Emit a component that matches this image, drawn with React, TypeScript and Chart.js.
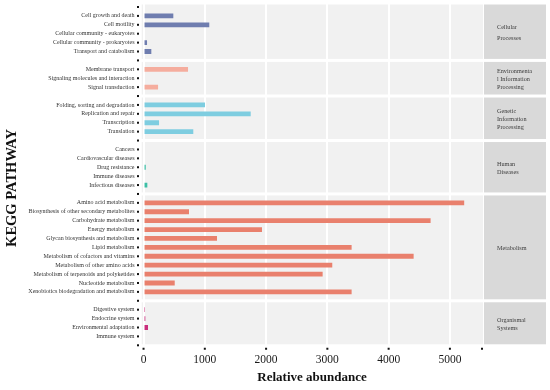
import { useEffect, useRef } from "react";
import { Chart, registerables } from "chart.js";

Chart.register(...registerables);

const SERIF = "'Liberation Serif', 'Times New Roman', serif";

const cellularLabels = ["Cell growth and death", "Cell motility", "Cellular community - eukaryotes", "Cellular community - prokaryotes", "Transport and catabolism"];
const cellularValues = [486, 1073, 0, 57, 127];

const environmentalLabels = ["Membrane transport", "Signaling molecules and interaction", "Signal transduction"];
const environmentalValues = [726, 0, 237];

const geneticLabels = ["Folding, sorting and degradation", "Replication and repair", "Transcription", "Translation"];
const geneticValues = [1003, 1749, 253, 812];

const humanLabels = ["Cancers", "Cardiovascular diseases", "Drug resistance", "Immune diseases", "Infectious diseases"];
const humanValues = [0, 0, 36, 0, 62];

const metabolismLabels = ["Amino acid metabolism", "Biosynthesis of other secondary metabolites", "Carbohydrate metabolism", "Energy metabolism", "Glycan biosynthesis and metabolism", "Lipid metabolism", "Metabolism of cofactors and vitamins", "Metabolism of other amino acids", "Metabolism of terpenoids and polyketides", "Nucleotide metabolism", "Xenobiotics biodegradation and metabolism"];
const metabolismValues = [5233, 742, 4685, 1933, 1199, 3396, 4408, 3080, 2923, 509, 3396];

const organismalLabels = ["Digestive system", "Endocrine system", "Environmental adaptation", "Immune system"];
const organismalValues = [24, 29, 73, 0];

const stripLabels = [
  ["Cellular", "Processes"],
  ["Environmenta", "l Information", "Processing"],
  ["Genetic", "Information", "Processing"],
  ["Human", "Diseases"],
  ["Metabolism"],
  ["Organismal", "Systems"],
];
const groupColors = ["#6f7daf", "#f5ad9e", "#7ecde0", "#3dbfa6", "#e9806d", "#c92e7c"];
const xTickValues = [0, 1000, 2000, 3000, 4000, 5000];

const groups = [
  { labels: cellularLabels, values: cellularValues },
  { labels: environmentalLabels, values: environmentalValues },
  { labels: geneticLabels, values: geneticValues },
  { labels: humanLabels, values: humanValues },
  { labels: metabolismLabels, values: metabolismValues },
  { labels: organismalLabels, values: organismalValues },
];

// rows: blank separator rows between facets
const rowLabels: string[] = [""];
const gapRows: number[] = [0];
const spans: { start: number; end: number }[] = [];
groups.forEach((g) => {
  const start = rowLabels.length;
  g.labels.forEach((l) => rowLabels.push(l));
  spans.push({ start, end: rowLabels.length - 1 });
  gapRows.push(rowLabels.length);
  rowLabels.push("");
});

const datasets = groups.map((g, k) => {
  const data: (number | null)[] = rowLabels.map(() => null);
  g.values.forEach((v, i) => {
    data[spans[k].start + i] = v;
  });
  return {
    label: stripLabels[k].join(" "),
    data,
    backgroundColor: groupColors[k],
    borderWidth: 0,
    barPercentage: 0.54,
    categoryPercentage: 1,
    grouped: false,
  };
});

const facetPlugin = {
  id: "facets",
  beforeDraw(chart: any) {
    const { ctx, chartArea, scales } = chart;
    const y = scales.y;
    ctx.save();
    ctx.fillStyle = "#f1f1f1";
    spans.forEach((_s, k) => {
      const gTop = y.getPixelForValue(gapRows[k]);
      const gBot = y.getPixelForValue(gapRows[k + 1]);
      const top = k === 0 ? gTop - 2.5 : gTop + 1.5;
      const bottom = k === spans.length - 1 ? gBot - 1 : gBot - 1.5;
      ctx.fillRect(chartArea.left, top, chartArea.right - chartArea.left, bottom - top);
    });
    ctx.restore();
  },
  afterDraw(chart: any) {
    const { ctx, chartArea, scales } = chart;
    const y = scales.y;
    const x = scales.x;
    ctx.save();
    // strips
    spans.forEach((_s, k) => {
      const gTop = y.getPixelForValue(gapRows[k]);
      const gBot = y.getPixelForValue(gapRows[k + 1]);
      const top = k === 0 ? gTop - 2.5 : gTop + 1.5;
      const bottom = k === spans.length - 1 ? gBot - 1 : gBot - 1.5;
      ctx.fillStyle = "#d9d9d9";
      ctx.fillRect(chartArea.right + 1, top, 62, bottom - top);
      const lines = stripLabels[k];
      const lh = k === 0 ? 11 : 8.3;
      const mid = (top + bottom) / 2 + 1;
      ctx.fillStyle = "#3d3d3d";
      ctx.font = `6.2px ${SERIF}`;
      ctx.textAlign = "left";
      ctx.textBaseline = "middle";
      lines.forEach((line, i) => {
        ctx.fillText(line, chartArea.right + 14, mid + (i - (lines.length - 1) / 2) * lh);
      });
    });
    // tick dots
    ctx.fillStyle = "#111";
    rowLabels.forEach((_l, i) => {
      const py = y.getPixelForValue(i);
      ctx.fillRect(137, py - 1, 2, 2);
    });
    xTickValues.forEach((v) => {
      const px = x.getPixelForValue(v);
      ctx.fillRect(px - 1, chartArea.bottom - 2, 2, 2);
    });
    ctx.fillRect(chartArea.right - 2, chartArea.bottom - 2, 2, 2);
    // axis titles
    ctx.fillStyle = "#111";
    ctx.font = `bold 13px ${SERIF}`;
    ctx.textAlign = "center";
    ctx.textBaseline = "middle";
    ctx.fillText("Relative abundance", 312, 378);
    ctx.translate(12.5, 188);
    ctx.rotate(-Math.PI / 2);
    ctx.font = `bold 14.5px ${SERIF}`;
    ctx.fillText("KEGG PATHWAY", 0, 0);
    ctx.restore();
  },
};

export default function App() {
  const ref = useRef<HTMLCanvasElement | null>(null);
  useEffect(() => {
    if (!ref.current) return;
    const chart = new Chart(ref.current, {
      type: "bar",
      data: { labels: rowLabels, datasets: datasets as any },
      options: {
        indexAxis: "y",
        animation: false,
        responsive: false,
        devicePixelRatio: 1,
        layout: { padding: { top: 2.55, right: 67, left: 0, bottom: 0 } },
        plugins: { legend: { display: false }, tooltip: { enabled: false }, title: { display: false } },
        scales: {
          x: {
            type: "linear",
            min: -30,
            max: 5540,
            afterBuildTicks: (scale: any) => {
              scale.ticks = xTickValues.map((v) => ({ value: v }));
            },
            afterFit: (scale: any) => {
              scale.height = 40.25;
              scale.paddingLeft = 0;
              scale.paddingRight = 0;
            },
            grid: { display: true, color: "#ffffff", lineWidth: 2, drawTicks: false },
            border: { display: false },
            ticks: {
              font: { family: SERIF, size: 11.5 },
              color: "#1a1a1a",
              padding: 3.5,
              maxRotation: 0,
              callback: (v: any) => String(v),
            },
          },
          y: {
            type: "category",
            afterFit: (scale: any) => {
              scale.width = 141.7;
              scale.paddingTop = 0;
              scale.paddingBottom = 0;
            },
            grid: { display: false, drawTicks: false },
            border: { display: false },
            ticks: {
              autoSkip: false,
              font: { family: SERIF, size: 6 },
              color: "#333333",
              padding: 7.2,
            },
          },
        },
      },
      plugins: [facetPlugin],
    });
    return () => chart.destroy();
  }, []);
  return (
    <div style={{ position: "absolute", left: 0, top: 0, width: 550, height: 390, background: "#fff" }}>
      <canvas ref={ref} width={550} height={390} style={{ display: "block" }} />
    </div>
  );
}
